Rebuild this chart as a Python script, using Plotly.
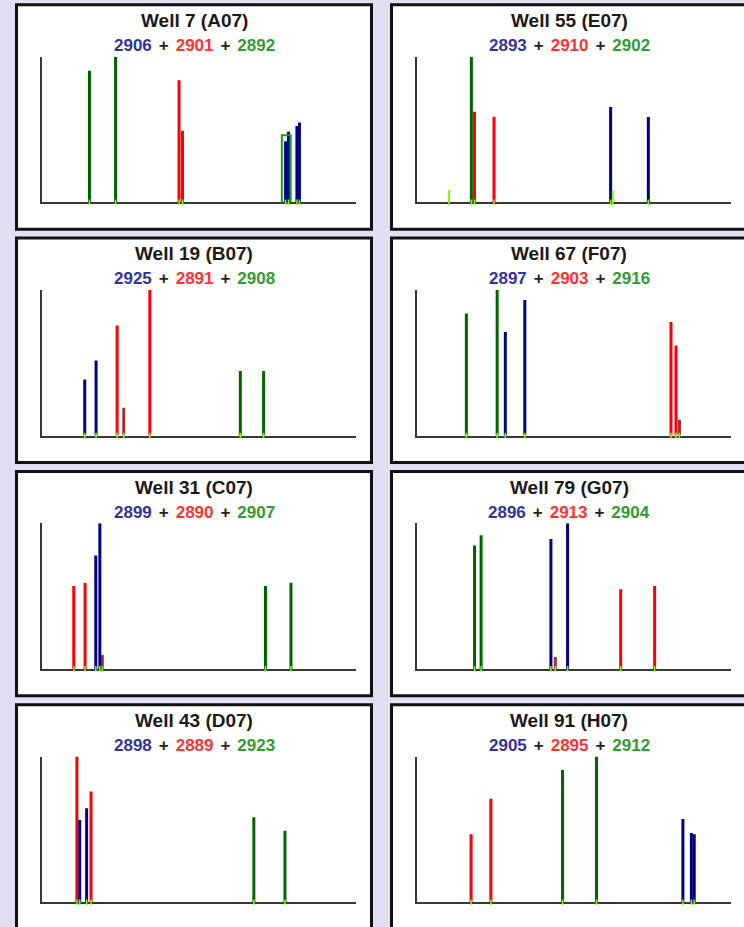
import plotly.graph_objects as go

# ---------------------------------------------------------------------------
# Data: one panel per well, three dye-labelled sample IDs per well.
# Peaks are (dye, position on the run axis 0-100, height relative to the
# tallest peak in the well).
# ---------------------------------------------------------------------------
titles = ["Well 7 (A07)", "Well 55 (E07)", "Well 19 (B07)", "Well 67 (F07)",
          "Well 31 (C07)", "Well 79 (G07)", "Well 43 (D07)", "Well 91 (H07)"]
blue_ids = [2906, 2893, 2925, 2897, 2899, 2896, 2898, 2905]
red_ids = [2901, 2910, 2891, 2903, 2890, 2913, 2889, 2895]
green_ids = [2892, 2902, 2908, 2916, 2907, 2904, 2923, 2912]

peaks_a07 = [("green", 15.2, 90.4), ("green", 23.5, 100), ("red", 43.7, 83.8),
             ("red", 44.8, 49.0), ("blue", 77.6, 42.0), ("blue", 78.5, 48.5),
             ("blue", 81.2, 52.4), ("blue", 82.0, 54.8)]
peaks_e07 = [("lime", 10.3, 8.4), ("green", 17.4, 100), ("red", 18.4, 62.2),
             ("red", 24.6, 58.8), ("blue", 61.7, 65.4), ("lime", 62.4, 8.4),
             ("blue", 73.7, 58.5)]
peaks_b07 = [("blue", 13.7, 38.6), ("blue", 17.3, 51.6), ("red", 24.0, 75.7),
             ("darkred", 26.1, 19.1), ("red", 34.4, 100), ("green", 63.2, 44.3),
             ("green", 70.6, 44.3)]
peaks_f07 = [("green", 15.8, 83.9), ("green", 25.6, 100), ("blue", 28.2, 71.1),
             ("blue", 34.4, 93.2), ("red", 80.9, 78.0), ("red", 82.5, 61.8),
             ("darkred", 83.6, 10.9)]
peaks_c07 = [("red", 10.2, 56.9), ("red", 13.8, 59.0), ("blue", 17.2, 77.9),
             ("blue", 18.5, 100), ("darkred", 19.3, 9.6), ("green", 71.2, 56.9),
             ("green", 79.3, 59.2)]
peaks_g07 = [("green", 18.4, 84.7), ("green", 20.5, 91.8), ("blue", 42.7, 89.3),
             ("darkred", 44.1, 8.2), ("blue", 48.0, 100), ("red", 64.9, 54.7),
             ("red", 75.7, 56.9)]
peaks_d07 = [("red", 11.2, 100), ("blue", 12.1, 56.5), ("blue", 14.3, 64.6),
             ("red", 15.7, 76.0), ("green", 67.5, 58.4), ("green", 77.4, 49.0)]
peaks_h07 = [("red", 17.3, 46.7), ("red", 23.6, 71.0), ("green", 46.4, 90.8),
             ("green", 57.2, 100), ("blue", 84.7, 57.2), ("blue", 87.4, 47.6),
             ("blue", 88.3, 46.7)]

# Highlighted bin in well A07: (x start, x end, top height)
bin_a07 = (76.4, 79.2, 46.0)

well_peaks = [peaks_a07, peaks_e07, peaks_b07, peaks_f07,
              peaks_c07, peaks_g07, peaks_d07, peaks_h07]

# ---------------------------------------------------------------------------
# Styling
# ---------------------------------------------------------------------------
W, H = 744, 927
PAGE_BG = "#E0E0F2"
DYE_COLORS = {"green": "#006400", "red": "#FF0000", "darkred": "#A53030",
              "blue": "#000088", "lime": "#80FF00"}
DYE_WIDTH = {"lime": 2}
DRAW_ORDER = ["green", "red", "darkred", "blue", "lime"]
ID_COLORS = ("#333399", "#FF3333", "#339933")
FONT = "Arial, 'Liberation Sans', sans-serif"

COL_X = [15, 390]          # panel left edges (px)
ROW_Y0, ROW_PITCH = 3.3, 233.3
PANEL_W, PANEL_H = 358, 227.4
PLOT_DX, PLOT_W = 26.7, 314.3
PLOT_DY, PLOT_H = 53.4, 145.6
BORDER = 3


def fx(px):
    return px / W


def fy(py):
    return 1 - py / H


fig = go.Figure()
shapes, annotations = [], []

for i, peaks in enumerate(well_peaks):
    row, col = divmod(i, 2)
    left = COL_X[col]
    top = ROW_Y0 + row * ROW_PITCH
    suffix = "" if i == 0 else str(i + 1)
    xname, yname = "x" + suffix, "y" + suffix

    # white panel with black frame
    shapes.append(dict(type="rect", xref="paper", yref="paper", layer="below",
                       x0=fx(left + BORDER / 2), x1=fx(left + PANEL_W - BORDER / 2),
                       y0=fy(top + PANEL_H - BORDER / 2), y1=fy(top + BORDER / 2),
                       fillcolor="white", line=dict(color="#111111", width=BORDER)))

    # axes of the electropherogram
    ax_left = left + PLOT_DX
    ax_top = top + PLOT_DY
    fig.layout["xaxis" + suffix] = dict(
        domain=[fx(ax_left), fx(ax_left + PLOT_W)], anchor=yname, range=[0, 100],
        showgrid=False, zeroline=False, showticklabels=False, ticks="",
        showline=True, linecolor="#383838", linewidth=2, layer="below traces",
        fixedrange=True)
    fig.layout["yaxis" + suffix] = dict(
        domain=[fy(ax_top + PLOT_H), fy(ax_top)], anchor=xname, range=[0, 100],
        showgrid=False, zeroline=False, showticklabels=False, ticks="",
        showline=True, linecolor="#383838", linewidth=2, layer="below traces",
        fixedrange=True)

    # peaks as vertical sticks, one trace per dye
    for dye in DRAW_ORDER:
        xs, ys = [], []
        for d, pos, hgt in peaks:
            if d == dye:
                xs += [pos, pos, None]
                ys += [0, hgt, None]
        if xs:
            fig.add_trace(go.Scatter(x=xs, y=ys, mode="lines", xaxis=xname,
                                     yaxis=yname, hoverinfo="skip",
                                     line=dict(color=DYE_COLORS[dye],
                                               width=DYE_WIDTH.get(dye, 3))))

    # peak-call ticks on the baseline
    fig.add_trace(go.Scatter(
        x=[pos for _, pos, _ in peaks], y=[0] * len(peaks), mode="markers",
        xaxis=xname, yaxis=yname, cliponaxis=False, hoverinfo="skip",
        marker=dict(symbol="line-ns", size=4,
                    line=dict(color=DYE_COLORS["lime"], width=1.5))))

    # titles
    cx = left + PANEL_W / 2
    annotations.append(dict(
        xref="paper", yref="paper", x=fx(cx), y=fy(top + 17.2), showarrow=False,
        xanchor="center", yanchor="middle", text="<b>%s</b>" % titles[i],
        font=dict(family=FONT, size=19, color="#1a1a1a")))
    gap = "<span style='font-size:25px'> </span>"
    plus = gap + "+" + gap
    ids = "<b><span style='color:%s'>%d</span>%s<span style='color:%s'>%d</span>" \
          "%s<span style='color:%s'>%d</span></b>" % (
              ID_COLORS[0], blue_ids[i], plus, ID_COLORS[1], red_ids[i], plus,
              ID_COLORS[2], green_ids[i])
    annotations.append(dict(
        xref="paper", yref="paper", x=fx(cx), y=fy(top + 38.6), showarrow=False,
        xanchor="center", yanchor="middle", text=ids,
        font=dict(family=FONT, size=17, color="#222222")))

# highlighted bin box in the first well
shapes.append(dict(type="rect", xref="x", yref="y", layer="above",
                   x0=bin_a07[0], x1=bin_a07[1], y0=-1.2, y1=bin_a07[2],
                   line=dict(color="#13A013", width=2)))

fig.update_layout(width=W, height=H, margin=dict(l=0, r=0, t=0, b=0),
                  paper_bgcolor=PAGE_BG, plot_bgcolor="rgba(0,0,0,0)",
                  showlegend=False, shapes=shapes, annotations=annotations)

fig.write_html("out.html", config={"displayModeBar": False})
